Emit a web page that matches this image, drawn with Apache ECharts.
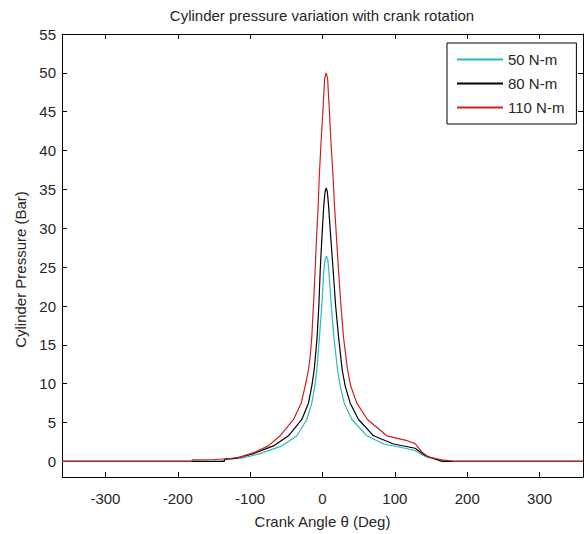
<!DOCTYPE html>
<html>
<head>
<meta charset="utf-8">
<script src="https://cdn.jsdelivr.net/npm/echarts@6/dist/echarts.min.js"></script>
<style>html,body{margin:0;padding:0;background:#fff;}#c{width:584px;height:534px;}</style>
</head>
<body>
<div id="c"></div>
<script>
// ---- data ----
var seriesNames = ['50 N-m', '80 N-m', '110 N-m'];
var xTicks = [-300, -200, -100, 0, 100, 200, 300];
var yTicks = [0, 5, 10, 15, 20, 25, 30, 35, 40, 45, 50, 55];

var theta50 = [-360, -136, -135, -110, -86, -56.3, -35.5, -21.7, -14.8, -10.6, -7.8, -4.2, -0.9, 1.8, 3.5, 5.5, 7.3, 8.8, 12, 15.7, 20.8, 24.5, 30, 40.6, 61.4, 84.5, 119, 128, 144, 170, 360];
var p50     = [0, 0, 0.3, 0.45, 1.0, 2.0, 3.3, 5.4, 7.5, 9.7, 11.8, 16.0, 20.2, 24.5, 26.0, 26.4, 26.0, 24.5, 20.2, 16.0, 11.8, 9.7, 7.5, 5.4, 3.3, 2.25, 1.6, 1.4, 0.55, 0, 0];

var theta80 = [-360, -136, -135, -120, -95.5, -67.8, -47, -28.6, -19.4, -14.8, -11.5, -7.4, -5, -3.2, -0.9, 1.8, 3.5, 5.1, 6.7, 8.3, 11.5, 14.8, 18, 22.2, 27.2, 31.4, 38.3, 49.8, 70.6, 98, 128, 142, 165, 360];
var p80     = [0, 0, 0.3, 0.4, 1.0, 2.0, 3.3, 5.4, 7.5, 9.7, 11.8, 16.0, 20.2, 24.5, 28.7, 33.0, 34.7, 35.2, 34.7, 33.0, 28.7, 24.5, 20.2, 16.0, 11.8, 9.7, 7.5, 5.4, 3.3, 2.25, 1.7, 0.76, 0, 0];

var theta110 = [-360, -181, -180, -150, -130, -114, -93, -75, -58.6, -40, -29.5, -24, -19.4, -17, -14.8, -12.5, -10.2, -8.3, -6, -4.2, -1.8, 0.9, 3, 5, 7, 9.2, 11.5, 14.3, 16.6, 19.4, 22.2, 25.4, 29, 34.6, 39, 47.5, 62, 89, 117, 128, 137.5, 147, 165, 180, 181, 360];
var p110     = [0, 0, 0.2, 0.25, 0.35, 0.55, 1.2, 2.0, 3.3, 5.4, 7.5, 9.7, 11.8, 13.5, 16.0, 20.2, 24.5, 28.7, 32.9, 37.2, 41.4, 45.7, 49.3, 50.0, 49.3, 45.7, 41.4, 37.2, 32.9, 28.7, 24.5, 20.2, 16.0, 11.8, 9.7, 7.5, 5.4, 3.3, 2.67, 2.3, 1.2, 0.55, 0.2, 0.05, 0, 0];

function pairs(xs, ys) { return xs.map(function (x, i) { return [x, ys[i]]; }); }

var FONT = 'Liberation Sans, Arial, sans-serif';
var TXT = '#262626';
var colors = ['#2fb8b8', '#000000', '#cc2020'];

var chart = echarts.init(document.getElementById('c'), null, {renderer: 'svg'});
chart.setOption({
  animation: false,
  backgroundColor: '#fff',
  title: {
    text: 'Cylinder pressure variation with crank rotation',
    left: 322, top: 8, textAlign: 'center', padding: 0,
    textStyle: {fontFamily: FONT, fontSize: 15, fontWeight: 'normal', color: TXT}
  },
  legend: {
    orient: 'vertical', left: 447, top: 43, align: 'left',
    padding: [9, 12, 9, 10], itemGap: 9, itemWidth: 46, itemHeight: 2,
    icon: 'rect',
    borderColor: '#000', borderWidth: 1, backgroundColor: '#fff',
    textStyle: {fontFamily: FONT, fontSize: 15, color: TXT},
    data: seriesNames
  },
  grid: {left: 62, right: 1, top: 34, bottom: 52, containLabel: false},
  xAxis: [{
    type: 'value', position: 'bottom', min: -360, max: 360,
    name: 'Crank Angle θ (Deg)', nameLocation: 'middle', nameGap: 37,
    nameTextStyle: {fontFamily: FONT, fontSize: 15, color: TXT},
    axisLine: {show: true, onZero: false, lineStyle: {color: '#000', width: 1}},
    axisTick: {show: true, inside: true, length: 5, customValues: xTicks, lineStyle: {color: '#000'}},
    axisLabel: {show: true, margin: 14, customValues: xTicks, fontFamily: FONT, fontSize: 15, color: TXT},
    splitLine: {show: false}
  }, {
    type: 'value', position: 'top', min: -360, max: 360,
    axisLine: {show: true, onZero: false, lineStyle: {color: '#000', width: 1}},
    axisTick: {show: true, inside: true, length: 5, customValues: xTicks, lineStyle: {color: '#000'}},
    axisLabel: {show: false}, splitLine: {show: false}
  }],
  yAxis: [{
    type: 'value', position: 'left', min: -2, max: 55,
    name: 'Cylinder Pressure (Bar)', nameLocation: 'middle', nameGap: 33,
    nameTextStyle: {fontFamily: FONT, fontSize: 15, color: TXT, padding: [0, 28, 0, 0]},
    axisLine: {show: true, onZero: false, lineStyle: {color: '#000', width: 1}},
    axisTick: {show: true, inside: true, length: 5, customValues: yTicks, lineStyle: {color: '#000'}},
    axisLabel: {show: true, margin: 6, customValues: yTicks, fontFamily: FONT, fontSize: 15, color: TXT},
    splitLine: {show: false}
  }, {
    type: 'value', position: 'right', min: -2, max: 55,
    axisLine: {show: true, onZero: false, lineStyle: {color: '#000', width: 1}},
    axisTick: {show: true, inside: true, length: 5, customValues: yTicks, lineStyle: {color: '#000'}},
    axisLabel: {show: false}, splitLine: {show: false}
  }],
  series: [
    {name: seriesNames[0], type: 'line', data: pairs(theta50, p50), symbol: 'none', color: colors[0], lineStyle: {width: 1.2, color: colors[0]}, itemStyle: {color: colors[0]}, z: 2},
    {name: seriesNames[1], type: 'line', data: pairs(theta80, p80), symbol: 'none', color: colors[1], lineStyle: {width: 1.2, color: colors[1]}, itemStyle: {color: colors[1]}, z: 3},
    {name: seriesNames[2], type: 'line', data: pairs(theta110, p110), symbol: 'none', color: colors[2], lineStyle: {width: 1.2, color: colors[2]}, itemStyle: {color: colors[2]}, z: 4}
  ]
});
</script>
</body>
</html>
